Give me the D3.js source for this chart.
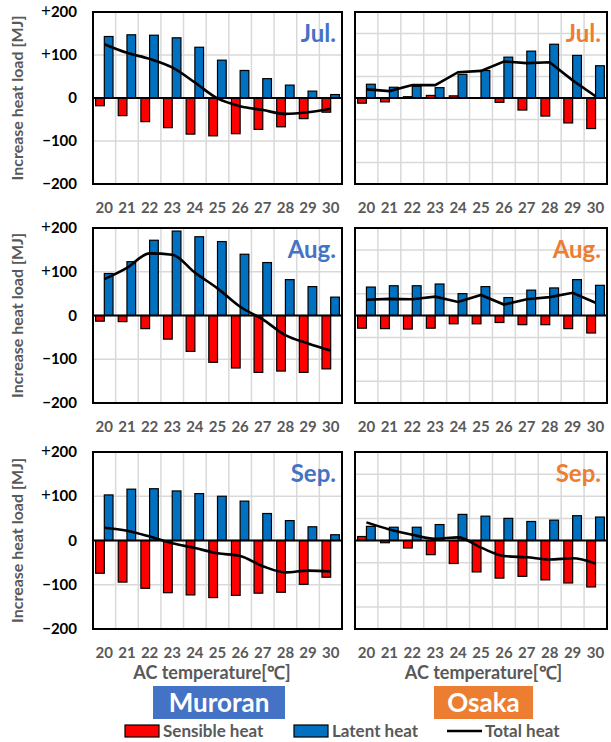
<!DOCTYPE html>
<html>
<head>
<meta charset="utf-8">
<script src="https://cdn.jsdelivr.net/npm/d3@7"></script>
<style>
  body { margin: 0; background: #fff; }
  text { font-family: Lato, "Open Sans", sans-serif; }
</style>
</head>
<body>
<script>
// AC set temperature categories
const categories = ['20', '21', '22', '23', '24', '25', '26', '27', '28', '29', '30'];
const yTicks = [200, 100, 0, -100, -200];
const yTickLabels = ['200', '100', '0', '\u2212100', '\u2212200'];

// Muroran
const murJulSensible = [-18, -41, -55, -69, -84, -88, -83, -73, -67, -48, -33];
const murJulLatent = [143, 147, 146, 140, 118, 88, 64, 45, 30, 16, 8];
const murJulTotal = [125, 105, 91, 71, 36, -1, -19, -28, -37, -33, -25];

const murAugSensible = [-13, -14, -30, -54, -82, -107, -120, -130, -127, -130, -122];
const murAugLatent = [96, 123, 172, 193, 180, 169, 140, 121, 82, 66, 42];
const murAugTotal = [83, 109, 142, 139, 98, 62, 20, -9, -45, -64, -80];

const murSepSensible = [-74, -94, -108, -118, -123, -129, -124, -119, -117, -99, -83];
const murSepLatent = [103, 116, 117, 112, 106, 100, 89, 61, 45, 31, 13];
const murSepTotal = [29, 22, 9, -6, -17, -29, -35, -58, -72, -68, -70];

// Osaka
const osaJulSensible = [-12, -9, 3, 6, 5, -1, -10, -28, -42, -58, -71];
const osaJulLatent = [32, 25, 27, 24, 55, 64, 95, 109, 125, 99, 75];
const osaJulTotal = [20, 16, 30, 30, 60, 63, 85, 81, 83, 41, 4];

const osaAugSensible = [-29, -30, -31, -29, -19, -19, -16, -21, -21, -30, -40];
const osaAugLatent = [65, 68, 68, 72, 50, 66, 41, 58, 63, 82, 69];
const osaAugTotal = [36, 38, 37, 43, 31, 47, 25, 37, 42, 52, 29];

const osaSepSensible = [9, -5, -17, -32, -52, -71, -85, -81, -89, -96, -105];
const osaSepLatent = [32, 30, 30, 36, 59, 55, 50, 43, 46, 56, 53];
const osaSepTotal = [41, 25, 13, 4, 7, -16, -35, -38, -43, -40, -52];

const colors = { sensible: '#FF0000', latent: '#0070C0', muroran: '#4472C4', osaka: '#ED7D31', gray: '#595959' };

// layout
const rows = [
  { top: 12, bottom: 184 },
  { top: 228, bottom: 403 },
  { top: 452, bottom: 629 }
];
const cols = [
  { left: 93, right: 342, grid: [-100, 100], color: colors.muroran },
  { left: 355, right: 607, grid: [-150, -100, -50, 50, 100, 150], color: colors.osaka }
];

const panels = [
  { row: 0, col: 0, month: 'Jul.', sensible: murJulSensible, latent: murJulLatent, total: murJulTotal, smooth: true },
  { row: 1, col: 0, month: 'Aug.', sensible: murAugSensible, latent: murAugLatent, total: murAugTotal, smooth: true },
  { row: 2, col: 0, month: 'Sep.', sensible: murSepSensible, latent: murSepLatent, total: murSepTotal, smooth: true },
  { row: 0, col: 1, month: 'Jul.', sensible: osaJulSensible, latent: osaJulLatent, total: osaJulTotal, smooth: false },
  { row: 1, col: 1, month: 'Aug.', sensible: osaAugSensible, latent: osaAugLatent, total: osaAugTotal, smooth: false },
  { row: 2, col: 1, month: 'Sep.', sensible: osaSepSensible, latent: osaSepLatent, total: osaSepTotal, smooth: true }
];

const svg = d3.select('body').append('svg')
  .attr('width', 611)
  .attr('height', 742);

function drawPanel(p) {
  const r = rows[p.row];
  const c = cols[p.col];
  const g = svg.append('g');

  const x = d3.scaleBand().domain(categories).range([c.left, c.right]);
  const sub = d3.scaleBand().domain(['sensible', 'latent'])
    .range([0, x.bandwidth()]).paddingOuter(0.3);
  const y = d3.scaleLinear().domain([-200, 200]).range([r.bottom, r.top]);

  // gridlines
  g.selectAll('.hgrid').data(c.grid).enter().append('line')
    .attr('x1', c.left).attr('x2', c.right)
    .attr('y1', d => y(d)).attr('y2', d => y(d))
    .attr('stroke', '#D9D9D9').attr('stroke-width', 1.5);
  g.selectAll('.vgrid').data(categories.slice(1)).enter().append('line')
    .attr('x1', d => x(d)).attr('x2', d => x(d))
    .attr('y1', r.top).attr('y2', r.bottom)
    .attr('stroke', '#D9D9D9').attr('stroke-width', 1.5);

  // bars
  ['sensible', 'latent'].forEach(key => {
    g.selectAll('.bar-' + key).data(p[key]).enter().append('rect')
      .attr('x', (d, i) => x(categories[i]) + sub(key))
      .attr('width', sub.bandwidth())
      .attr('y', d => y(Math.max(0, d)))
      .attr('height', d => Math.abs(y(d) - y(0)))
      .attr('fill', colors[key])
      .attr('stroke', '#000')
      .attr('stroke-width', 1.2);
  });

  // zero line
  g.append('line')
    .attr('x1', c.left).attr('x2', c.right)
    .attr('y1', y(0)).attr('y2', y(0))
    .attr('stroke', '#000').attr('stroke-width', 2);

  // total heat line
  const line = d3.line()
    .x((d, i) => x(categories[i]) + x.bandwidth() / 2)
    .y(d => y(d))
    .curve(p.smooth ? d3.curveMonotoneX : d3.curveLinear);
  g.append('path')
    .attr('d', line(p.total))
    .attr('fill', 'none')
    .attr('stroke', '#000')
    .attr('stroke-width', 2.6);

  // frame
  g.append('rect')
    .attr('x', c.left).attr('y', r.top)
    .attr('width', c.right - c.left).attr('height', r.bottom - r.top)
    .attr('fill', 'none').attr('stroke', '#000').attr('stroke-width', 2);

  // month label
  g.append('text')
    .attr('x', c.right - 6).attr('y', r.top + 30)
    .attr('text-anchor', 'end')
    .attr('font-size', 24).attr('font-weight', 'bold')
    .attr('fill', c.color)
    .text(p.month);

  // x tick labels
  g.selectAll('.xtick').data(categories).enter().append('text')
    .attr('x', d => x(d) + x.bandwidth() / 2)
    .attr('y', r.bottom + 29)
    .attr('text-anchor', 'middle')
    .attr('font-size', 15).attr('font-weight', 'bold')
    .attr('fill', colors.gray)
    .text(d => d);

  // y tick labels only on the left column
  if (p.col === 0) {
    const t = g.selectAll('.ytick').data(yTicks).enter().append('text')
      .attr('x', 77)
      .attr('y', d => y(d) + 5)
      .attr('text-anchor', 'end')
      .attr('font-size', 15).attr('font-weight', 'bold')
      .attr('fill', '#000');
    t.filter(d => d > 0).append('tspan')
      .attr('font-weight', 'normal').attr('font-size', 17)
      .text('+');
    t.append('tspan').text(d => yTickLabels[yTicks.indexOf(d)]);

    g.append('text')
      .attr('transform', `translate(23,${y(0)}) rotate(-90)`)
      .attr('text-anchor', 'middle')
      .attr('font-size', 16).attr('font-weight', 'bold')
      .attr('fill', colors.gray)
      .text('Increase heat load [MJ]');
  }
}

panels.forEach(drawPanel);

// axis titles and city boxes
const cities = [
  { name: 'Muroran', col: 0, titleX: 212, boxX: 219, w: 132 },
  { name: 'Osaka', col: 1, titleX: 483.5, boxX: 483.5, w: 99 }
];
cities.forEach(ct => {
  const c = cols[ct.col];
  svg.append('text')
    .attr('x', ct.titleX).attr('y', 679)
    .attr('text-anchor', 'middle')
    .attr('font-size', 18).attr('font-weight', 'bold')
    .attr('fill', colors.gray)
    .text('AC temperature[\u2103]');
  svg.append('rect')
    .attr('x', ct.boxX - ct.w / 2).attr('y', 686)
    .attr('width', ct.w).attr('height', 33)
    .attr('fill', c.color);
  svg.append('text')
    .attr('x', ct.boxX).attr('y', 712)
    .attr('text-anchor', 'middle')
    .attr('font-size', 26).attr('font-weight', 'bold')
    .attr('fill', '#fff')
    .text(ct.name);
});

// legend
const legend = svg.append('g').attr('transform', 'translate(0,731)');
const legendItems = [
  { label: 'Sensible heat', type: 'rect', color: colors.sensible, x: 125 },
  { label: 'Latent heat', type: 'rect', color: colors.latent, x: 294 },
  { label: 'Total heat', type: 'line', color: '#000', x: 447 }
];
legendItems.forEach(it => {
  if (it.type === 'rect') {
    legend.append('rect')
      .attr('x', it.x).attr('y', -6)
      .attr('width', 34).attr('height', 12)
      .attr('fill', it.color).attr('stroke', '#000').attr('stroke-width', 1.2);
  } else {
    legend.append('line')
      .attr('x1', it.x).attr('x2', it.x + 35)
      .attr('y1', 0).attr('y2', 0)
      .attr('stroke', it.color).attr('stroke-width', 2.6);
  }
  legend.append('text')
    .attr('x', it.x + 38).attr('y', 6)
    .attr('font-size', 17).attr('font-weight', 'bold')
    .attr('fill', colors.gray)
    .text(it.label);
});
</script>
</body>
</html>
